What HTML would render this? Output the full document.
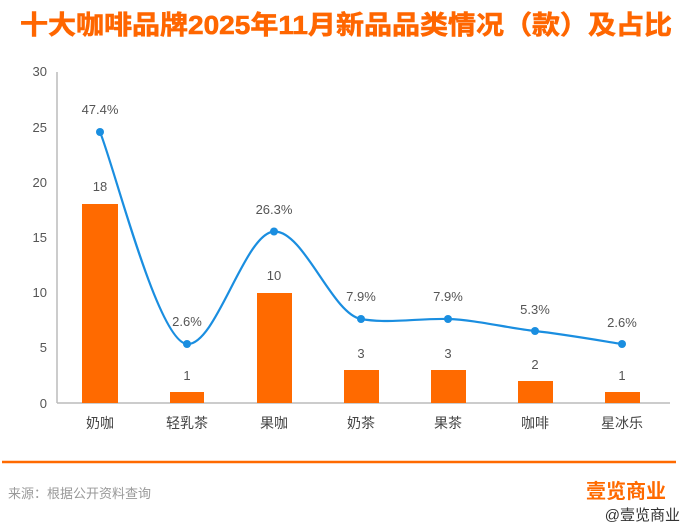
<!DOCTYPE html>
<html><head><meta charset="utf-8"><style>
html,body{margin:0;padding:0;background:#fff;}
svg{display:block;font-family:"Liberation Sans","Noto Sans CJK SC",sans-serif;}
</style></head><body>
<svg width="690" height="529" viewBox="0 0 690 529">
<text x="20" y="34" textLength="652" lengthAdjust="spacingAndGlyphs" font-size="26" font-weight="bold" fill="#ff6600" stroke="#ff6600" stroke-width="0.6" font-family="'Liberation Sans','Noto Sans CJK SC',sans-serif">十大咖啡品牌2025年11月新品品类情况（款）及占比</text>
<g font-size="13" fill="#555" text-anchor="end">
<text x="47" y="76">30</text><text x="47" y="132">25</text><text x="47" y="187">20</text><text x="47" y="242">15</text><text x="47" y="297">10</text><text x="47" y="352">5</text><text x="47" y="408">0</text>
</g>
<line x1="57" y1="72" x2="57" y2="403" stroke="#bbb" stroke-width="1.5"/>
<line x1="57" y1="403" x2="670" y2="403" stroke="#bbb" stroke-width="1.5"/>
<g fill="#ff6a00">
<rect x="82" y="204" width="36" height="199"/>
<rect x="170" y="392" width="34" height="11"/>
<rect x="257" y="293" width="35" height="110"/>
<rect x="344" y="370" width="35" height="33"/>
<rect x="431" y="370" width="35" height="33"/>
<rect x="518" y="381" width="35" height="22"/>
<rect x="605" y="392" width="35" height="11"/>
</g>
<g font-size="13" fill="#555" text-anchor="middle">
<text x="100" y="191">18</text><text x="187" y="380">1</text><text x="274" y="280">10</text><text x="361" y="358">3</text><text x="448" y="358">3</text><text x="535" y="369">2</text><text x="622" y="380">1</text>
</g>
<path d="M100,132 C114.5,167.3 158,341.8 187,344 C216,346.2 244.5,233 274,231.5 C303.5,230 332,314 361,319 C390,324 419,318 448,319 C477,320 506,327.8 535,331 C564,334.2 607.5,341.8 622,344" fill="none" stroke="#1a8ee0" stroke-width="2.2"/>
<g fill="#1a8ee0">
<circle cx="100" cy="132" r="4"/><circle cx="187" cy="344" r="4"/><circle cx="274" cy="231.5" r="4"/><circle cx="361" cy="319" r="4"/><circle cx="448" cy="319" r="4"/><circle cx="535" cy="331" r="4"/><circle cx="622" cy="344" r="4"/>
</g>
<g font-size="13" fill="#555" text-anchor="middle">
<text x="100" y="114">47.4%</text><text x="187" y="326">2.6%</text><text x="274" y="214">26.3%</text><text x="361" y="301">7.9%</text><text x="448" y="301">7.9%</text><text x="535" y="314">5.3%</text><text x="622" y="327">2.6%</text>
</g>
<g font-size="14" fill="#444" text-anchor="middle">
<text x="100" y="428">奶咖</text><text x="187" y="428">轻乳茶</text><text x="274" y="428">果咖</text><text x="361" y="428">奶茶</text><text x="448" y="428">果茶</text><text x="535" y="428">咖啡</text><text x="622" y="428">星冰乐</text>
</g>
<line x1="2" y1="462" x2="676" y2="462" stroke="#ff6a00" stroke-width="2.5"/>
<text x="8" y="498" font-size="13" fill="#999">来源：根据公开资料查询</text>
<text x="626" y="498" font-size="20" font-weight="bold" fill="#ff6a00" text-anchor="middle">壹览商业</text>
<text x="680" y="520" font-size="15" fill="#333" text-anchor="end">@壹览商业</text>
</svg>
</body></html>
